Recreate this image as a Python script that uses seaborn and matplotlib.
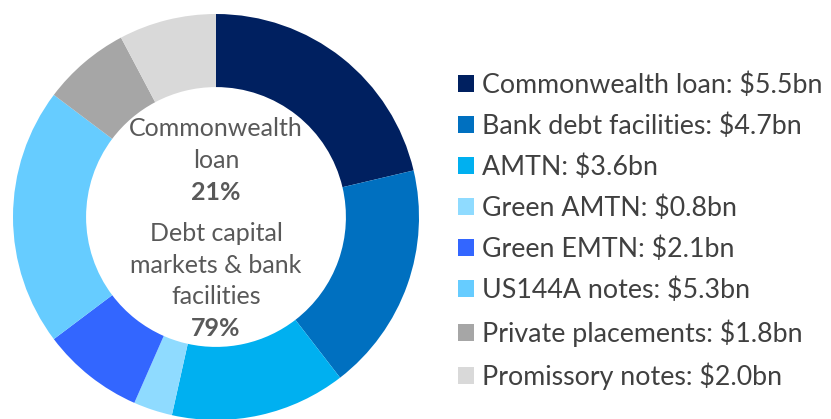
import matplotlib
matplotlib.use("Agg")
import matplotlib.pyplot as plt
import seaborn as sns
from matplotlib.patches import Patch

categories = ["Commonwealth loan", "Bank debt facilities", "AMTN", "Green AMTN",
              "Green EMTN", "US144A notes", "Private placements", "Promissory notes"]
values = [5.5, 4.7, 3.6, 0.8, 2.1, 5.3, 1.8, 2.0]
colors = ["#002060", "#0070C0", "#00B0F0", "#8FDBFF",
          "#3366FF", "#66CCFF", "#A6A6A6", "#D9D9D9"]
center_lines = ["Commonwealth", "loan", "21%", "Debt capital", "markets & bank", "facilities", "79%"]
center_bold = [False, False, True, False, False, False, True]

sns.set_theme(style="white")
plt.rcParams['font.family'] = ['Lato', 'DejaVu Sans']

W, H = 831, 419
fig = plt.figure(figsize=(W / 100, H / 100), dpi=100)
cx, cy, r = 216, 217, 203
ax = fig.add_axes([(cx - r) / W, (H - cy - r) / H, 2 * r / W, 2 * r / H])
palette = sns.color_palette(colors)
wedges, _ = ax.pie(values, colors=palette, startangle=90, counterclock=False,
                   radius=1, wedgeprops=dict(width=0.36, linewidth=0))
ax.set_xlim(-1, 1)
ax.set_ylim(-1, 1)
ax.set_aspect("equal")
ax.axis("off")

ys = [128, 160, 192, 233, 265, 297, 328]
for t, b, y in zip(center_lines, center_bold, ys):
    fig.text(cx / W, 1 - y / H, t, ha="center", va="center", fontsize=18,
             color="#595959", fontweight="bold" if b else "normal")

labels = [f"{c}: ${v:.1f}bn" for c, v in zip(categories, values)]
handles = [Patch(facecolor=c, edgecolor="none") for c in palette]
leg = fig.legend(handles, labels, loc="upper left", bbox_to_anchor=(458 / W, 1 - 72 / H),
                 frameon=False, fontsize=19.3, labelcolor="#404040",
                 handlelength=0.6, handleheight=0.6, handletextpad=0.3,
                 labelspacing=0.585, borderaxespad=0, borderpad=0)

fig.savefig("out.png", dpi=100)
